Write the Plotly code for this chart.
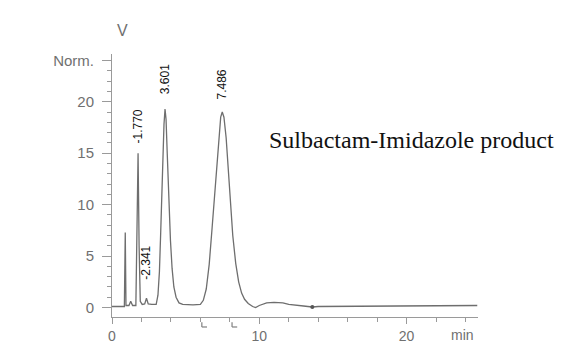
import plotly.graph_objects as go

# Chromatogram trace: retention time (min) and detector response (Norm.)
time_min = [
    0.0, 0.5, 0.84, 0.9, 0.95, 1.15, 1.27, 1.4,
    1.62, 1.70, 1.77, 1.84, 1.92, 2.05,
    2.22, 2.341, 2.46, 2.7, 3.0,
    3.12, 3.22, 3.30, 3.37, 3.45, 3.53, 3.601, 3.67, 3.75, 3.87, 3.97, 4.08, 4.2, 4.35, 4.55, 4.8,
    5.5, 6.0, 6.2, 6.4, 6.6, 6.8, 6.95, 7.1, 7.25, 7.38, 7.486, 7.6, 7.75, 7.9, 8.05, 8.2, 8.4,
    8.6, 8.8, 9.0, 9.25, 9.55, 9.75,
    10.0, 10.5, 11.0, 11.6, 12.0, 13.0, 13.6, 14.0, 20.0, 24.8,
]
signal = [
    0.1, 0.1, 0.1, 7.3, 0.2, 0.2, 0.6, 0.2,
    0.2, 8.0, 15.0, 6.0, 0.6, 0.3,
    0.35, 0.9, 0.35, 0.3, 0.3,
    1.2, 3.5, 7.0, 10.5, 14.5, 17.8, 19.3, 18.3, 15.0, 10.0, 6.5, 3.8, 2.0, 1.0, 0.45, 0.3,
    0.25, 0.3, 0.7, 1.8, 4.2, 7.8, 10.5, 13.8, 16.8, 18.5, 19.0, 18.5, 16.5, 13.5, 10.0, 7.0, 4.3,
    2.5, 1.4, 0.8, 0.4, 0.1, 0.0,
    0.2, 0.45, 0.5, 0.45, 0.3, 0.15, 0.05, 0.1, 0.15, 0.2,
]

# Integrated peaks: retention time labels and apex heights
peak_rt = [1.770, 2.341, 3.601, 7.486]
peak_height = [15.0, 0.9, 19.3, 19.0]
peak_text = ["-1.770", "-2.341", "3.601", "7.486"]
label_center = [17.6, 4.4, 22.2, 21.7]

# Integration event marks under the time axis, and the baseline event dot
event_time = [6.1, 8.15]
baseline_event_time = [13.6]
baseline_event_level = [0.05]

y_tickvals = [0, 5, 10, 15, 20, 24]
y_ticktext = ["0", "5", "10", "15", "20", "Norm."]
x_tickvals = [0, 10, 20]

axis_grey = "#9a9a9a"
label_grey = "#707070"
sans = "Liberation Sans, Arial"

fig = go.Figure()
fig.add_trace(go.Scatter(
    x=time_min, y=signal, mode="lines",
    line=dict(color="#6e6e6e", width=1.3),
    hoverinfo="skip", showlegend=False,
))
fig.add_trace(go.Scatter(
    x=baseline_event_time, y=baseline_event_level, mode="markers",
    marker=dict(color="#555555", size=4),
    hoverinfo="skip", showlegend=False,
))

# small "L"-shaped event marks just below the time axis
for t in event_time:
    fig.add_shape(type="line", xref="x", yref="paper", x0=t, x1=t,
                  y0=-0.02, y1=-0.038, line=dict(color="#808080", width=1.2))
    fig.add_shape(type="line", xref="x", yref="paper", x0=t, x1=t + 0.35,
                  y0=-0.038, y1=-0.038, line=dict(color="#808080", width=1.2))

for rt, txt, yc in zip(peak_rt, peak_text, label_center):
    fig.add_annotation(
        x=rt, y=yc, xref="x", yref="y", text=txt, showarrow=False,
        textangle=-90, xanchor="center", yanchor="middle",
        font=dict(family=sans, size=12, color="#111111"),
    )

fig.add_annotation(
    x=0.817, y=0.672, xref="paper", yref="paper",
    text="Sulbactam-Imidazole product", showarrow=False,
    xanchor="center", yanchor="middle",
    font=dict(family="Liberation Serif, Times New Roman", size=24, color="#111111"),
)
fig.add_annotation(
    x=0.03, y=1.09, xref="paper", yref="paper", text="V", showarrow=False,
    xanchor="center", yanchor="middle",
    font=dict(family=sans, size=16, color=label_grey),
)
fig.add_annotation(
    x=0.959, y=-0.07, xref="paper", yref="paper", text="min", showarrow=False,
    xanchor="center", yanchor="middle",
    font=dict(family=sans, size=14, color=label_grey),
)

fig.update_layout(
    width=563, height=345,
    margin=dict(l=112, r=85, t=54, b=28, autoexpand=False),
    paper_bgcolor="white", plot_bgcolor="white",
    showlegend=False,
)
fig.update_xaxes(
    range=[0, 24.85], showgrid=False, zeroline=False, automargin=False,
    showline=True, linecolor=axis_grey, linewidth=1,
    tickmode="array", tickvals=x_tickvals,
    ticks="outside", ticklen=6, tickcolor=axis_grey,
    minor=dict(dtick=2, tick0=0, ticks="outside", ticklen=4, tickcolor=axis_grey),
    tickfont=dict(family=sans, size=14, color=label_grey),
)
fig.update_yaxes(
    range=[-0.92, 24.64], showgrid=False, zeroline=False, automargin=False,
    showline=True, linecolor=axis_grey, linewidth=1,
    tickmode="array", tickvals=y_tickvals, ticktext=y_ticktext,
    ticks="outside", ticklen=9, tickcolor=axis_grey, ticklabelstandoff=5,
    minor=dict(dtick=1, tick0=0, ticks="outside", ticklen=4, tickcolor=axis_grey),
    tickfont=dict(family=sans, size=15, color=label_grey),
)

fig.write_html("out.html")
